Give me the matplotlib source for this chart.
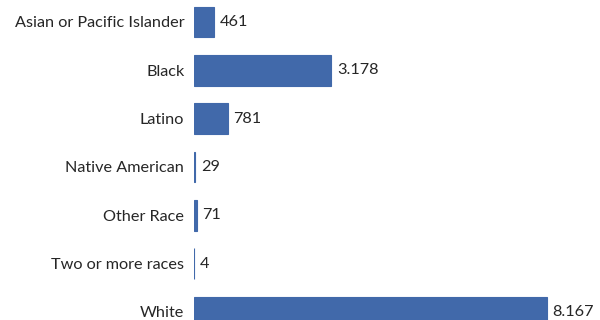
# ================= IMPORT LIBRARIES =================
import matplotlib
matplotlib.use("Agg")
import matplotlib.pyplot as plt

# ================= DATA =================
categories = [
    "Asian or Pacific Islander",
    "Black",
    "Latino",
    "Native American",
    "Other Race",
    "Two or more races",
    "White",
]
values = [461, 3178, 781, 29, 71, 4, 8167]

BAR_COLOR = "#4169aa"
TEXT_COLOR = "#262626"
FONT_SIZE = 11.7

plt.rcParams["font.family"] = ["Lato", "DejaVu Sans"]

# ================= FIGURE =================
fig = plt.figure(figsize=(6, 3.2), dpi=100)
ax = fig.add_axes([194 / 600, 0, 406 / 600, 1])

y = list(range(len(categories)))
ax.barh(y, values, height=0.63, color=BAR_COLOR,
        edgecolor=BAR_COLOR, linewidth=0.8)

for i, v in enumerate(values):
    label = f"{v:,}".replace(",", ".")
    ax.annotate(label, (v, i), xytext=(4, 0), textcoords="offset points",
                va="center", ha="left", fontsize=FONT_SIZE, color=TEXT_COLOR)

ax.set_yticks(y)
ax.set_yticklabels(categories, fontsize=FONT_SIZE, color=TEXT_COLOR)
ax.tick_params(axis="y", length=0, pad=7)
ax.set_xticks([])

ax.set_xlim(0, 406 / 0.0432)
ax.set_ylim(6.166, -0.455)

for s in ax.spines.values():
    s.set_visible(False)

# ================= SAVE =================
fig.savefig("out.png", dpi=100)
